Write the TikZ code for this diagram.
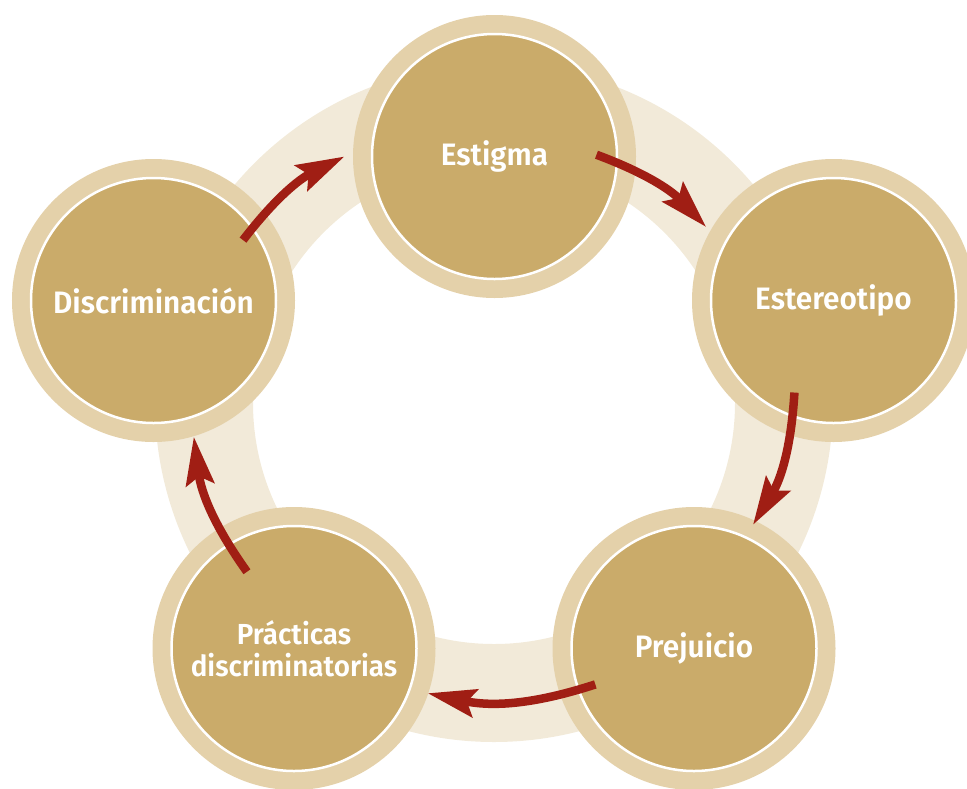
\documentclass[tikz,border=0pt]{standalone}
\usepackage{fontspec}
\setmainfont{Fira Sans}[BoldFont={Fira Sans SemiBold}, FakeStretch=0.96]
\usepackage{tikz}
\usetikzlibrary{calc}
\usetikzlibrary{arrows.meta}
\usepackage{xcolor}
\definecolor{gold}{RGB}{202,171,106}
\definecolor{rim}{RGB}{228,209,170}
\definecolor{band}{RGB}{242,234,217}
\definecolor{arrowred}{RGB}{160,30,20}

\begin{document}
\begin{tikzpicture}[x=1pt,y=1pt,
        stage/.style={circle, minimum size=245pt, inner sep=0pt,
                fill=gold, draw=white, line width=2.5pt,
                preaction={draw=rim, line width=38pt},
                text=white, align=center,
                font=\fontsize{31}{32}\selectfont\bfseries},
        flow/.style={-{Stealth[length=48pt,width=28pt,inset=8pt]},
                draw=arrowred, line width=8.5pt}]

    \useasboundingbox (0,0) rectangle (967,-788);
    \clip (0,0) rectangle (967,-788);

    % background band
    \coordinate (hub) at (494,-403);
    \draw[band, line width=98pt] (hub) circle[radius=290];

    % ------------------

    % the five stages
    \node[stage] (estigma) at (494.5,-156.5) {Estigma};
    \node[stage] (estereo) at (833.5,-300.5) {Estereotipo};
    \node[stage] (prejuicio) at (694,-648.5) {Prejuicio};
    \node[stage, font=\fontsize{29}{32}\selectfont\bfseries] (practicas)
        at (294,-648.5) {Prácticas\\discriminatorias};
    \node[stage] (discrim) at (153.5,-300.5) {Discriminación};

    % ------------------

    % cycle
    \path
    ($(discrim)+(34:108)$) edge [flow, bend left=13] ($(estigma)+(180:150)$)
    ($(estigma)+(1:102)$) edge [flow, bend left=13] ($(estereo)+(150:147)$)
    ($(estereo)+(247:100)$) edge [flow, bend left=14] ($(prejuicio)+(64.5:137)$)
    ($(prejuicio)+(200:105)$) edge [flow, bend left=15] ($(practicas)+(-18.5:141)$)
    ($(practicas)+(121.5:90)$) edge [flow, bend left=14] ($(discrim)+(-73.5:142)$)
    ;
\end{tikzpicture}
\end{document}
